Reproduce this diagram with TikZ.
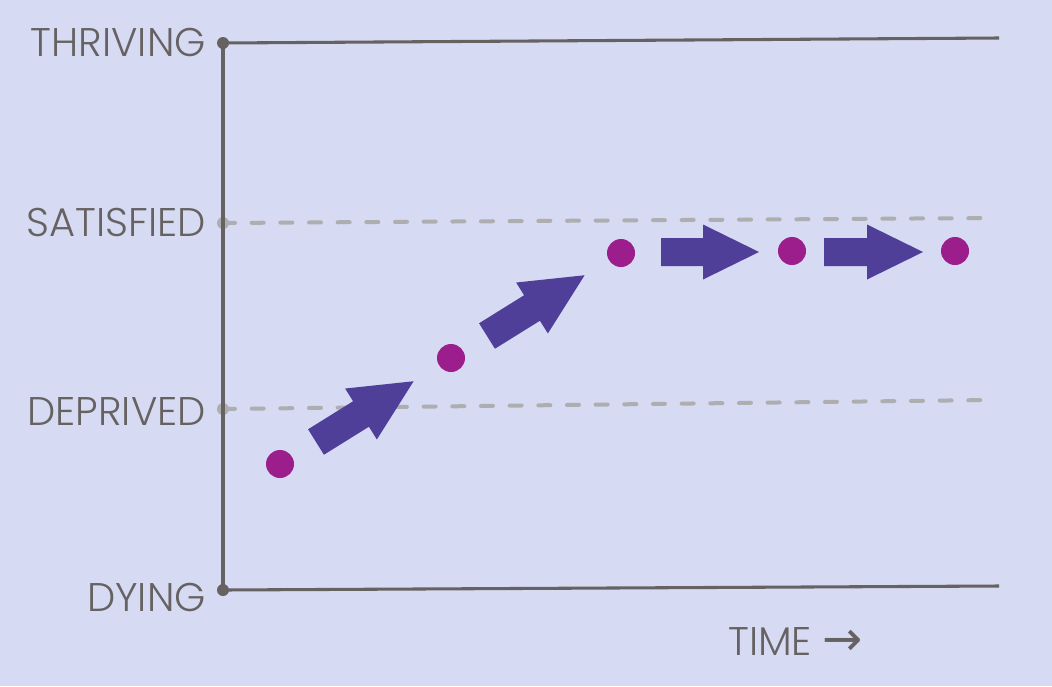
\documentclass[tikz,border=0pt]{standalone}
\usepackage{fontspec}
\setmainfont{Poppins}[UprightFont={* Light}]
\newfontfamily\arrowfont{DejaVu Sans}
\definecolor{bgcol}{RGB}{214,218,243}
\definecolor{axiscol}{RGB}{102,98,98}
\definecolor{dashcol}{RGB}{174,174,176}
\definecolor{dotcol}{RGB}{155,30,140}
\definecolor{arrcol}{RGB}{79,63,152}
\newcommand{\fatarrow}[7]{%
  \begin{scope}[shift={(#1,#2)},rotate=#3]
    \fill[arrcol] (0,-#7) -- ({#4-#5},-#7) -- ({#4-#5},-#6) -- (#4,0)
      -- ({#4-#5},#6) -- ({#4-#5},#7) -- (0,#7) -- cycle;
  \end{scope}}
\begin{document}
\begin{tikzpicture}[x=0.75pt,y=-0.75pt,
  axis/.style={draw=axiscol,line width=2.3pt},
  level/.style={draw=dashcol,line width=3pt,line cap=round,dash pattern=on 9pt off 12.5pt},
  lab/.style={text=axiscol,font=\fontsize{30}{30}\selectfont,inner sep=0pt,anchor=east},
  state/.style={circle,fill=dotcol,minimum size=21pt,inner sep=0pt},
  adot/.style={circle,fill=axiscol,minimum size=9pt,inner sep=0pt},
  gdot/.style={circle,fill=dashcol,minimum size=9pt,inner sep=0pt}]
\fill[bgcol] (0,0) rectangle (1052,686);
\useasboundingbox (0,0) rectangle (1052,686);
% axis coordinates
\coordinate (top) at (223,43);
\coordinate (topR) at (999,38);
\coordinate (bot) at (223,590);
\coordinate (botR) at (999,586);
\coordinate (sat) at (223,223);
\coordinate (satR) at (990,218);
\coordinate (dep) at (223,409);
\coordinate (depR) at (990,400);
% dashed levels
\draw[level] (sat) -- (satR);
\draw[level] (dep) -- (depR);
\node[gdot] at (sat) {};
\node[gdot] at (dep) {};
% axes
\draw[axis] (top) -- (bot);
\draw[axis] (top) -- (topR);
\draw[axis] (bot) -- (botR);
\node[adot] at (top) {};
\node[adot] at (bot) {};
% labels
\node[lab] (lthr) at (206,42.5) {THRIVING};
\node[lab] (lsat) at (206,222.5) {SATISFIED};
\node[lab] (ldep) at (206,411) {DEPRIVED};
\node[lab] (ldy) at (206,597.5) {DYING};
\node[lab,anchor=west] (ltime) at (728,641) {TIME {\arrowfont\fontsize{36}{36}\selectfont →}};
% state dots
\node[state] (s1) at (280,464) {};
\node[state] (s2) at (451,358) {};
\node[state] (s3) at (621,253) {};
\node[state] (s4) at (792,251) {};
\node[state] (s5) at (955,251) {};
% arrows
\fatarrow{316}{442}{31.9}{115}{62}{30}{15}
\fatarrow{487}{336}{31.9}{115}{62}{30}{15}
\fatarrow{661}{252}{0}{98}{56}{27.5}{14}
\fatarrow{824}{252}{0}{99}{56}{27.5}{14}
\end{tikzpicture}
\end{document}
